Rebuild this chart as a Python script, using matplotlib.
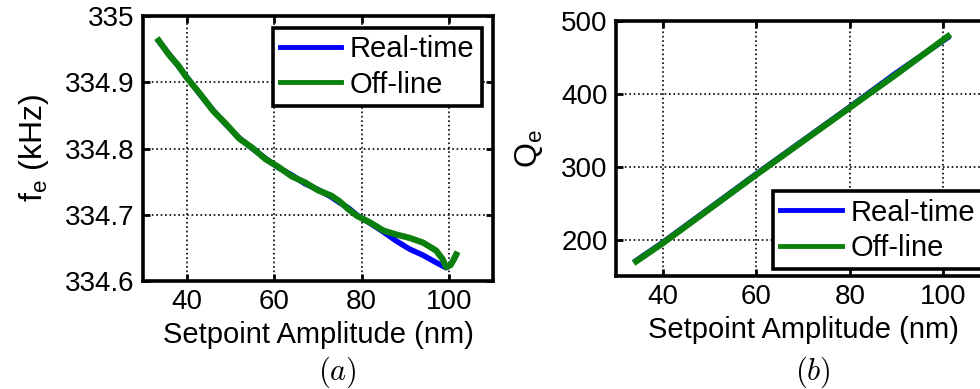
import matplotlib
matplotlib.use('Agg')
import matplotlib.pyplot as plt

plt.rcParams['font.family'] = ['Liberation Sans', 'DejaVu Sans']
plt.rcParams['mathtext.fontset'] = 'cm'
plt.rcParams['mathtext.default'] = 'regular'

# (a) resonance frequency vs setpoint amplitude
fe_rt_x = [33.6, 36, 38, 40, 43, 46, 49, 52, 55, 58, 61, 64, 67, 70, 73, 75, 77, 79,
           82, 85, 88, 91, 94, 97, 99.3, 100.5, 101.5]
fe_rt_y = [334.962, 334.942, 334.925, 334.908, 334.882, 334.858, 334.836, 334.816,
           334.800, 334.785, 334.771, 334.760, 334.747, 334.738, 334.727, 334.718,
           334.710, 334.699, 334.687, 334.674, 334.660, 334.648, 334.639, 334.628,
           334.620, 334.626, 334.638]
fe_off_x = [33.6, 36, 38, 40, 43, 46, 49, 52, 55, 58, 61, 64, 67, 70, 73, 75, 77, 79,
            82, 85, 88, 91, 94, 97, 98.5, 99.3, 100.3, 101, 101.6]
fe_off_y = [334.963, 334.941, 334.926, 334.907, 334.883, 334.857, 334.837, 334.815,
            334.801, 334.784, 334.772, 334.758, 334.749, 334.737, 334.729, 334.720,
            334.708, 334.698, 334.688, 334.676, 334.670, 334.665, 334.658, 334.646,
            334.633, 334.621, 334.624, 334.632, 334.640]

# (b) quality factor vs setpoint amplitude
qe_rt_x = [34.3, 40, 50, 60, 70, 80, 90, 100.9]
qe_rt_y = [171, 196, 243, 290, 336, 382, 429, 477]
qe_off_x = [34.3, 40, 50, 60, 70, 80, 90, 101]
qe_off_y = [170, 195, 242, 289, 335, 381, 427, 479]

x_ticks = [40, 60, 80, 100]
fe_ticks = [334.6, 334.7, 334.8, 334.9, 335]
fe_tick_labels = ['334.6', '334.7', '334.8', '334.9', '335']
qe_ticks = [200, 300, 400, 500]

BLUE = '#0000ff'
GREEN = '#0c800c'
FS = 20


def style_axes(ax):
    for s in ax.spines.values():
        s.set_linewidth(2.6)
    ax.tick_params(direction='in', length=5, width=2, labelsize=FS,
                   top=True, right=True, pad=6)
    ax.grid(True, linestyle=':', color='black', linewidth=1.2)
    ax.set_xlabel('Setpoint Amplitude (nm)', fontsize=21, labelpad=4)


def add_legend(ax, loc, anchor):
    leg = ax.legend(loc=loc, bbox_to_anchor=anchor, borderaxespad=0,
                    fontsize=21, fancybox=False, framealpha=1, edgecolor='black',
                    handlelength=2.1, handletextpad=0.3, labelspacing=0.25,
                    borderpad=0.25)
    leg.get_frame().set_linewidth(2.6)
    for h in leg.get_lines():
        h.set_linewidth(3.5)


def main():
    fig = plt.figure(figsize=(9.8, 3.89), dpi=100)

    ax1 = fig.add_axes([0.1459, 0.2776, 0.3571, 0.6812])
    ax1.plot(fe_rt_x, fe_rt_y, color=BLUE, lw=4, label='Real-time')
    ax1.plot(fe_off_x, fe_off_y, color=GREEN, lw=4.5, label='Off-line')
    ax1.set_xlim(30, 110)
    ax1.set_ylim(334.6, 335)
    ax1.set_xticks(x_ticks)
    ax1.set_yticks(fe_ticks, fe_tick_labels)
    ax1.set_ylabel('$f_e$ (kHz)', fontsize=23, labelpad=10)
    style_axes(ax1)
    add_legend(ax1, 'upper left', (0.371, 0.955))

    ax2 = fig.add_axes([0.6286, 0.2905, 0.3816, 0.6555])
    ax2.plot(qe_rt_x, qe_rt_y, color=BLUE, lw=4, label='Real-time')
    ax2.plot(qe_off_x, qe_off_y, color=GREEN, lw=4.5, label='Off-line')
    ax2.set_xlim(30, 110)
    ax2.set_ylim(150, 500)
    ax2.set_xticks(x_ticks)
    ax2.set_yticks(qe_ticks)
    ax2.set_ylabel('$Q_e$', fontsize=23, labelpad=12)
    style_axes(ax2)
    add_legend(ax2, 'lower left', (0.42, 0.027))

    fig.text(0.344, 0.025, r'$\mathrm{(}\mathit{a}\mathrm{)}$', fontsize=22, ha='center')
    fig.text(0.830, 0.025, r'$\mathrm{(}\mathit{b}\mathrm{)}$', fontsize=22, ha='center')

    fig.savefig('out.png', dpi=100)


if __name__ == '__main__':
    main()
